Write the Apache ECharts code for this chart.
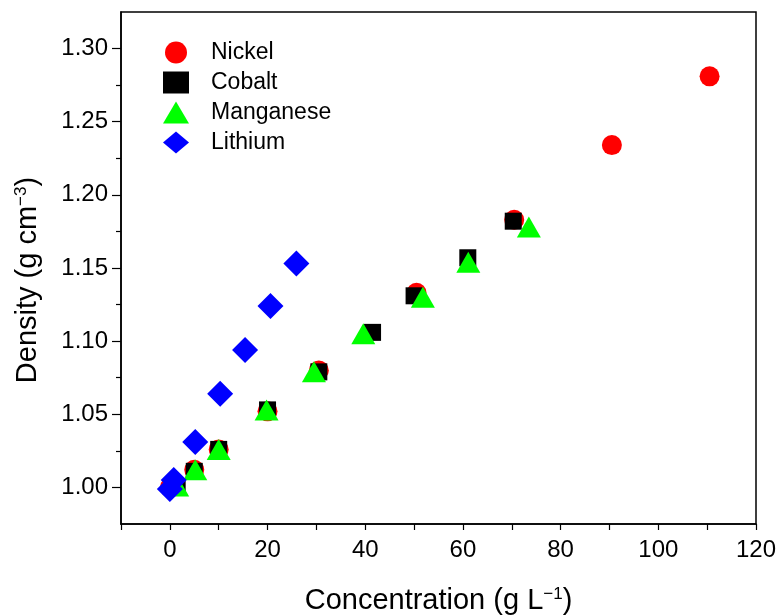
<!DOCTYPE html>
<html>
<head>
<meta charset="utf-8">
<script src="https://cdn.jsdelivr.net/npm/echarts@6/dist/echarts.min.js"></script>
<style>
html, body { margin: 0; padding: 0; background: #fff; }
#main { width: 781px; height: 616px; }
</style>
</head>
<body>
<div id="main"></div>
<script>
// data: [concentration g/L, density g/cm3]
var nickel = [[0, 1.000], [5, 1.012], [10, 1.026], [20, 1.052], [30.5, 1.080], [50.5, 1.133], [70.5, 1.183], [90.5, 1.234], [110.5, 1.281]];
var cobalt = [[1.5, 1.000], [5, 1.011], [10, 1.026], [20, 1.053], [30.5, 1.079], [41.5, 1.106], [50, 1.131], [61, 1.157], [70.3, 1.182]];
var manganese = [[1.5, 1.001], [5.2, 1.012], [10, 1.026], [19.8, 1.053], [29.5, 1.079], [39.6, 1.105], [51.8, 1.130], [61.1, 1.154], [73.5, 1.178]];
var lithium = [[0, 0.999], [0.8, 1.005], [5.2, 1.031], [10.3, 1.064], [15.4, 1.094], [20.6, 1.124], [25.9, 1.153]];

var seriesNames = ['Nickel', 'Cobalt', 'Manganese', 'Lithium'];
var legendIcons = ['circle', 'rect', 'triangle', 'diamond'];
var xLabels = [0, 20, 40, 60, 80, 100, 120];
var yMajor = [1.00, 1.05, 1.10, 1.15, 1.20, 1.25, 1.30];
var yMinor = [1.025, 1.075, 1.125, 1.175, 1.225, 1.275];

var font = 'Liberation Sans, Arial, sans-serif';
var myChart = echarts.init(document.getElementById('main'));

function titleStyle(pad) {
	return {
		fontFamily: font, fontSize: 29, color: '#000', padding: pad,
		rich: {
			sup: { fontFamily: font, fontSize: 17, color: '#000', verticalAlign: 'top', padding: [0, 0, 13, 0] },
			t: { fontFamily: font, fontSize: 29, color: '#000' }
		}
	};
}

var legendData = [];
for (var i = 0; i < seriesNames.length; i++) {
	legendData.push({ name: seriesNames[i], icon: legendIcons[i] });
}

var option = {
	backgroundColor: '#fff',
	animation: false,
	grid: {
		left: 121, right: 25, top: 12, bottom: 92,
		outerBoundsMode: 'none',
		containLabel: false,
		show: true, borderColor: '#000', borderWidth: 1.5
	},
	legend: {
		orient: 'vertical',
		left: 158, top: 36,
		itemWidth: 26, itemHeight: 22, itemGap: 7,
		data: legendData,
		textStyle: { fontFamily: font, fontSize: 23, color: '#000', padding: [0, 0, 0, 17] }
	},
	xAxis: {
		type: 'value',
		min: -10, max: 120, interval: 10,
		name: 'Concentration (g L{sup|−1}{t|)}',
		nameLocation: 'middle',
		nameGap: 62,
		nameTextStyle: titleStyle(0),
		axisLine: { onZero: false, lineStyle: { color: '#000', width: 1.5 } },
		axisTick: { show: true, length: 6, lineStyle: { color: '#000', width: 1.2 } },
		axisLabel: {
			customValues: xLabels,
			fontFamily: font, fontSize: 24, color: '#000', margin: 14
		},
		splitLine: { show: false }
	},
	yAxis: [{
		type: 'value',
		min: 0.975, max: 1.325,
		name: 'Density (g cm{sup|−3}{t|)}',
		nameLocation: 'middle',
		nameGap: 78,
		nameTextStyle: titleStyle([0, 24, 0, 0]),
		axisLine: { onZero: false, lineStyle: { color: '#000', width: 1.5 } },
		axisTick: { show: true, customValues: yMajor, length: 9, lineStyle: { color: '#000', width: 1.2 } },
		axisLabel: {
			customValues: yMajor,
			formatter: function (v) { return v.toFixed(2); },
			fontFamily: font, fontSize: 24, color: '#000', margin: 13
		},
		splitLine: { show: false }
	}, {
		type: 'value',
		min: 0.975, max: 1.325,
		position: 'left',
		axisLine: { show: false, onZero: false },
		axisTick: { show: true, customValues: yMinor, length: 5, lineStyle: { color: '#000', width: 1.2 } },
		axisLabel: { show: false },
		splitLine: { show: false }
	}],
	series: [{
		name: 'Nickel', type: 'scatter', data: nickel,
		symbol: 'circle', symbolSize: 20,
		itemStyle: { color: '#ff0000', opacity: 1 }
	}, {
		name: 'Cobalt', type: 'scatter', data: cobalt,
		symbol: 'rect', symbolSize: 17,
		itemStyle: { color: '#000000', opacity: 1 }
	}, {
		name: 'Manganese', type: 'scatter', data: manganese,
		symbol: 'triangle', symbolSize: [24, 21],
		itemStyle: { color: '#00ff00', opacity: 1 }
	}, {
		name: 'Lithium', type: 'scatter', data: lithium,
		symbol: 'diamond', symbolSize: 26,
		itemStyle: { color: '#0000ff', opacity: 1 }
	}]
};

myChart.setOption(option);
</script>
</body>
</html>
